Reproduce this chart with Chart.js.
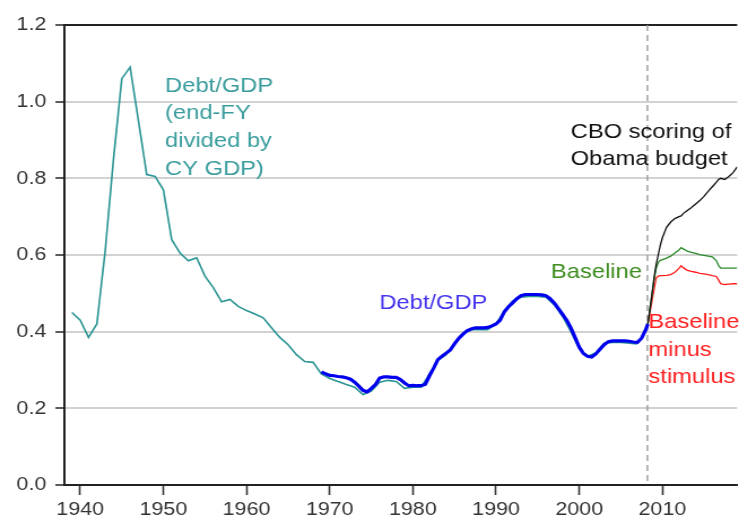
<!DOCTYPE html>
<html>
<head>
<meta charset="utf-8">
<script src="https://cdn.jsdelivr.net/npm/chart.js@4.4.1/dist/chart.umd.min.js"></script>
<style>
  html, body { margin: 0; padding: 0; background: #fff; overflow: hidden; }
  /* the reference is slightly stretched horizontally, so draw narrower and stretch */
  #wrap { width: 654px; height: 520px; transform: scaleX(1.13); transform-origin: 0 0; }
</style>
</head>
<body>
<div id="wrap"><canvas id="chart"></canvas></div>
<script>
// annual series: end-FY debt / CY GDP
const fyYears = [1939, 1940, 1941, 1942, 1943, 1944, 1945, 1946, 1947, 1948, 1949,
  1950, 1951, 1952, 1953, 1954, 1955, 1956, 1957, 1958, 1959,
  1960, 1961, 1962, 1963, 1964, 1965, 1966, 1967, 1968, 1969,
  1970, 1971, 1972, 1973, 1974, 1975, 1976, 1977, 1978, 1979,
  1980, 1981, 1982, 1983, 1984, 1985, 1986, 1987, 1988, 1989,
  1990, 1991, 1992, 1993, 1994, 1995, 1996, 1997, 1998, 1999,
  2000, 2001, 2002, 2003, 2004, 2005, 2006, 2007];
const fyDebt = [0.45, 0.43, 0.385, 0.42, 0.61, 0.85, 1.06, 1.09, 0.95, 0.81, 0.805,
  0.77, 0.64, 0.605, 0.585, 0.593, 0.545, 0.515, 0.478, 0.484, 0.466,
  0.455, 0.446, 0.436, 0.41, 0.385, 0.366, 0.34, 0.322, 0.32, 0.29,
  0.278, 0.27, 0.262, 0.255, 0.236, 0.245, 0.268, 0.273, 0.27, 0.252,
  0.255, 0.255, 0.29, 0.325, 0.34, 0.37, 0.395, 0.405, 0.405, 0.405,
  0.42, 0.455, 0.48, 0.49, 0.492, 0.492, 0.49, 0.47, 0.44, 0.40,
  0.355, 0.335, 0.345, 0.37, 0.372, 0.372, 0.37, 0.368];

// quarterly debt / GDP
const qYears = [1969.0, 1969.5, 1970.0, 1970.5, 1971.0, 1971.5, 1972.0, 1972.5, 1973.0, 1973.5,
  1974.0, 1974.5, 1975.0, 1975.5, 1976.0, 1976.5, 1977.0, 1977.5, 1978.0, 1978.5,
  1979.0, 1979.5, 1980.0, 1980.5, 1981.0, 1981.5, 1982.0, 1982.5, 1983.0, 1983.5,
  1984.0, 1984.5, 1985.0, 1985.5, 1986.0, 1986.5, 1987.0, 1987.5, 1988.0, 1988.5,
  1989.0, 1989.5, 1990.0, 1990.5, 1991.0, 1991.5, 1992.0, 1992.5, 1993.0, 1993.5,
  1994.0, 1994.5, 1995.0, 1995.5, 1996.0, 1996.5, 1997.0, 1997.5, 1998.0, 1998.5,
  1999.0, 1999.5, 2000.0, 2000.5, 2001.0, 2001.5, 2002.0, 2002.5, 2003.0, 2003.5,
  2004.0, 2004.5, 2005.0, 2005.5, 2006.0, 2006.5, 2007.0, 2007.5, 2008.0, 2008.25];
const qDebt = [0.295, 0.29, 0.286, 0.285, 0.283, 0.282, 0.28, 0.276, 0.268, 0.258,
  0.247, 0.243, 0.252, 0.262, 0.279, 0.282, 0.282, 0.281, 0.281, 0.275,
  0.266, 0.259, 0.26, 0.259, 0.259, 0.263, 0.285, 0.305, 0.327, 0.336,
  0.344, 0.352, 0.368, 0.382, 0.393, 0.402, 0.407, 0.41, 0.41, 0.41,
  0.411, 0.415, 0.42, 0.43, 0.452, 0.465, 0.475, 0.486, 0.494, 0.497,
  0.497, 0.497, 0.497, 0.496, 0.494, 0.486, 0.475, 0.46, 0.445, 0.43,
  0.41, 0.385, 0.36, 0.343, 0.336, 0.334, 0.342, 0.354, 0.366, 0.374,
  0.376, 0.376, 0.376, 0.376, 0.375, 0.373, 0.372, 0.383, 0.405, 0.42];

// projections
const projYears = [2008.25, 2008.5, 2008.75, 2009, 2009.25, 2009.5, 2009.75, 2010, 2010.5, 2011,
  2011.5, 2012, 2012.25, 2012.5, 2013, 2013.5, 2014, 2014.5, 2015, 2015.5,
  2016, 2016.5, 2016.75, 2017, 2017.5, 2018, 2018.5, 2019];
const cboObama = [0.42, 0.457, 0.50, 0.54, 0.575, 0.60, 0.625, 0.645, 0.672, 0.686,
  0.695, 0.70, 0.702, 0.708, 0.716, 0.724, 0.733, 0.742, 0.753, 0.766,
  0.778, 0.79, 0.797, 0.80, 0.797, 0.805, 0.815, 0.83];
const baseline = [0.42, 0.46, 0.495, 0.535, 0.565, 0.58, 0.586, 0.588, 0.592, 0.597,
  0.605, 0.613, 0.619, 0.616, 0.61, 0.607, 0.604, 0.601, 0.599, 0.597,
  0.595, 0.585, 0.573, 0.566, 0.566, 0.566, 0.566, 0.566];
const baseMinusStim = [0.42, 0.45, 0.48, 0.51, 0.54, 0.545, 0.546, 0.546, 0.547, 0.549,
  0.555, 0.565, 0.572, 0.567, 0.56, 0.557, 0.555, 0.552, 0.551, 0.549,
  0.546, 0.544, 0.535, 0.525, 0.523, 0.524, 0.525, 0.525];

const xTickYears = [1940, 1950, 1960, 1970, 1980, 1990, 2000, 2010];
const yTicks = [0, 0.2, 0.4, 0.6, 0.8, 1.0, 1.2];
const splitYear = 2008.2;

// text labels, anchored in data coordinates
const notes = [
  { lines: ['Debt/GDP', '(end-FY', 'divided by', 'CY GDP)'], x: 1950.2, y: 1.041, color: '#3a9c9c' },
  { lines: ['Debt/GDP'], x: 1975.96, y: 0.475, color: '#4433ee' },
  { lines: ['Baseline'], x: 1996.6, y: 0.556, color: '#3c8c1e' },
  { lines: ['CBO scoring of', 'Obama budget'], x: 1998.97, y: 0.921, color: '#111111' },
  { lines: ['Baseline', 'minus', 'stimulus'], x: 2008.32, y: 0.425, color: '#ff2020' }
];

const pts = (xs, ys) => xs.map((x, i) => ({ x: x, y: ys[i] }));
const FONT = "'Liberation Sans', Arial, sans-serif";

const extras = {
  id: 'extras',
  beforeDatasetsDraw(chart) {
    const { ctx, chartArea, scales } = chart;
    const x = scales.x.getPixelForValue(splitYear);
    ctx.save();
    ctx.strokeStyle = '#999';
    ctx.lineWidth = 1.4;
    ctx.setLineDash([6, 4]);
    ctx.beginPath();
    ctx.moveTo(x, chartArea.top);
    ctx.lineTo(x, chartArea.bottom);
    ctx.stroke();
    ctx.restore();
  },
  afterDatasetsDraw(chart) {
    const { ctx, scales } = chart;
    ctx.save();
    ctx.font = '21px ' + FONT;
    ctx.textBaseline = 'middle';
    ctx.textAlign = 'left';
    notes.forEach(n => {
      const x = scales.x.getPixelForValue(n.x);
      const y = scales.y.getPixelForValue(n.y);
      ctx.fillStyle = n.color;
      n.lines.forEach((t, i) => ctx.fillText(t, x, y + i * 27.7));
    });
    ctx.restore();
  }
};

new Chart(document.getElementById('chart'), {
  type: 'line',
  data: {
    datasets: [
      { data: pts(projYears, cboObama), borderColor: '#111', borderWidth: 1.3, order: 0 },
      { data: pts(projYears, baseMinusStim), borderColor: '#ff1a1a', borderWidth: 1.3, order: 2 },
      { data: pts(projYears, baseline), borderColor: '#2a8a2a', borderWidth: 1.3, order: 1 },
      { data: pts(qYears, qDebt), borderColor: '#0000ee', borderWidth: 3.2, order: 3 },
      { data: pts(fyYears, fyDebt), borderColor: '#2b9494', borderWidth: 1.6, order: 4 }
    ]
  },
  options: {
    responsive: true,
    maintainAspectRatio: false,
    animation: false,
    elements: { point: { radius: 0 }, line: { tension: 0 } },
    layout: { padding: { top: 25, right: 0, bottom: 0, left: 0 } },
    plugins: { legend: { display: false }, tooltip: { enabled: false } },
    scales: {
      x: {
        type: 'linear',
        min: 1938.1,
        max: 2019,
        afterBuildTicks: s => { s.ticks = xTickYears.map(v => ({ value: v })); },
        afterFit: s => { s.height = 35; },
        grid: { drawOnChartArea: false, tickLength: 10, tickColor: '#333', tickWidth: 1.6 },
        border: { color: '#222', width: 2 },
        ticks: { color: '#333', padding: 3, font: { family: FONT, size: 19 }, callback: v => String(v) }
      },
      y: {
        min: 0,
        max: 1.2,
        afterBuildTicks: s => { s.ticks = yTicks.map(v => ({ value: v })); },
        afterFit: s => { s.width = 57; },
        grid: {
          color: c => c.tick.value === 0 ? 'rgba(0,0,0,0)' : (c.tick.value > 1.19 ? '#222' : '#d2d2d2'),
          lineWidth: c => c.tick.value > 1.19 ? 2 : 2,
          tickLength: 8,
          tickColor: '#333',
          tickWidth: 1.6
        },
        border: { color: '#222', width: 2 },
        ticks: { color: '#333', padding: 8, font: { family: FONT, size: 19 }, callback: v => v.toFixed(1) }
      }
    }
  },
  plugins: [extras]
});
</script>
</body>
</html>
